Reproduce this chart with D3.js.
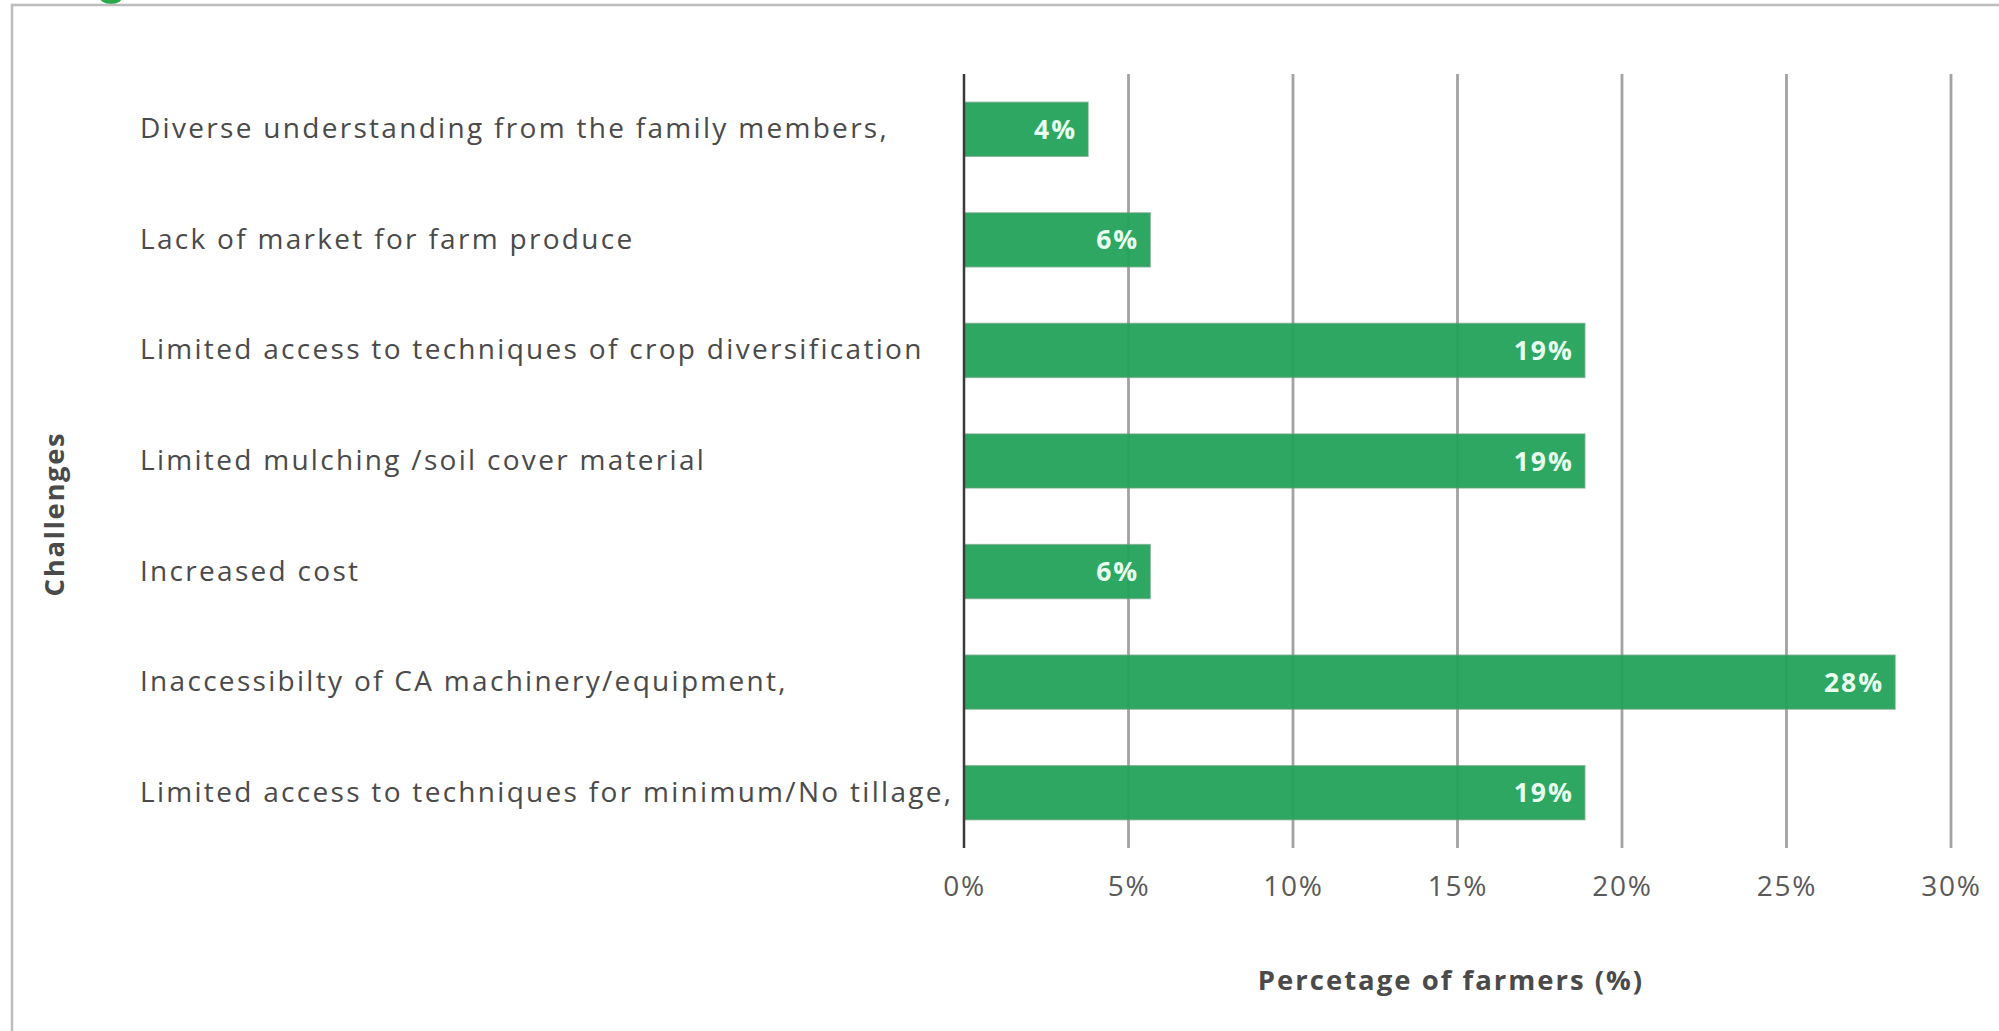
<!DOCTYPE html>
<html>
<head>
<meta charset="utf-8">
<script src="https://cdn.jsdelivr.net/npm/d3@7"></script>
<style>
  html, body { margin: 0; padding: 0; background: #ffffff; }
  svg { display: block; }
  text { font-family: "Open Sans", Lato, sans-serif; }
</style>
</head>
<body>
<script>
// Challenges reported by farmers, share of respondents (n = 53)
const categories = [
  "Diverse understanding from the family members,",
  "Lack of market for farm produce",
  "Limited access to techniques of crop diversification",
  "Limited mulching /soil cover material",
  "Increased cost",
  "Inaccessibilty of CA machinery/equipment,",
  "Limited access to techniques for minimum/No tillage,"
];
const percentValues = [3.77, 5.66, 18.87, 18.87, 5.66, 28.30, 18.87];
const tickValues = [0, 5, 10, 15, 20, 25, 30];
const tickLabels = ["0%", "5%", "10%", "15%", "20%", "25%", "30%"];

const W = 1999, H = 1031;
const plot = { left: 964, right: 1951, top: 74, bottom: 848 };
const FONT = "'Open Sans', Lato, sans-serif";

const svg = d3.select("body").append("svg")
  .attr("width", W).attr("height", H);

svg.append("rect").attr("width", W).attr("height", H).attr("fill", "#ffffff");

// tail of the figure caption, above the frame
svg.append("ellipse")
  .attr("cx", 111).attr("cy", -4)
  .attr("rx", 12).attr("ry", 8)
  .attr("fill", "#2aa84a");

// chart frame
svg.append("rect")
  .attr("x", 12).attr("y", 5)
  .attr("width", 2100).attr("height", 1200)
  .attr("fill", "none")
  .attr("stroke", "#bdbdbd")
  .attr("stroke-width", 2.5);

const x = d3.scaleLinear().domain([0, 30]).range([plot.left, plot.right]);
const y = d3.scaleBand()
  .domain(categories)
  .range([plot.top, plot.bottom])
  .paddingInner(0.512)
  .paddingOuter(0.256);

// vertical gridlines
svg.append("g")
  .selectAll("line")
  .data(tickValues.filter(d => d > 0))
  .join("line")
  .attr("x1", d => x(d)).attr("x2", d => x(d))
  .attr("y1", plot.top).attr("y2", plot.bottom)
  .attr("stroke", "#a3a3a3")
  .attr("stroke-width", 2.8);

// bars
svg.append("g")
  .selectAll("rect")
  .data(percentValues)
  .join("rect")
  .attr("x", x(0))
  .attr("y", (d, i) => y(categories[i]))
  .attr("width", d => x(d) - x(0))
  .attr("height", y.bandwidth())
  .attr("fill", "#22a25a")
  .attr("fill-opacity", 0.95)
  .attr("stroke", "#5f9f78")
  .attr("stroke-opacity", 0.6)
  .attr("stroke-width", 1.5);

// value labels inside bar ends
svg.append("g")
  .selectAll("text")
  .data(percentValues)
  .join("text")
  .attr("x", d => x(d) - 11)
  .attr("y", (d, i) => y(categories[i]) + y.bandwidth() / 2)
  .attr("dy", "0.36em")
  .attr("text-anchor", "end")
  .attr("fill", "#e8fff0")
  .attr("font-weight", 700)
  .attr("font-size", 26.5)
  .attr("letter-spacing", 2)
  .text(d => d3.format(".0f")(d) + "%");

// zero axis line
svg.append("line")
  .attr("x1", x(0)).attr("x2", x(0))
  .attr("y1", plot.top).attr("y2", plot.bottom)
  .attr("stroke", "#3a3a3a")
  .attr("stroke-width", 2.5);

// category labels
const yAxis = d3.axisLeft(y).tickSize(0).tickPadding(0);
const yG = svg.append("g").attr("transform", `translate(${140},0)`).call(yAxis);
yG.select(".domain").remove();
yG.selectAll("text")
  .attr("text-anchor", "start")
  .attr("x", 0)
  .attr("fill", "#4a4a4a")
  .attr("font-size", 28)
  .attr("letter-spacing", 2.3)
  .attr("font-family", FONT);

// x tick labels
const xAxis = d3.axisBottom(x)
  .tickValues(tickValues)
  .tickFormat((d, i) => tickLabels[i])
  .tickSize(0).tickPadding(0);
const xG = svg.append("g").attr("transform", `translate(0,${886})`).call(xAxis);
xG.select(".domain").remove();
xG.selectAll("text")
  .attr("dy", "0.36em")
  .attr("fill", "#595959")
  .attr("font-size", 28)
  .attr("letter-spacing", 1.8)
  .attr("font-family", FONT);

// axis titles
svg.append("text")
  .attr("x", 1451).attr("y", 980)
  .attr("dy", "0.36em")
  .attr("text-anchor", "middle")
  .attr("fill", "#4a4a4a")
  .attr("font-weight", 700)
  .attr("font-size", 27.5)
  .attr("letter-spacing", 2)
  .text("Percetage of farmers (%)");

svg.append("text")
  .attr("transform", "translate(54,514) rotate(-90)")
  .attr("dy", "0.36em")
  .attr("text-anchor", "middle")
  .attr("fill", "#4a4a4a")
  .attr("font-weight", 700)
  .attr("font-size", 27.5)
  .attr("letter-spacing", 1.6)
  .text("Challenges");
</script>
</body>
</html>
